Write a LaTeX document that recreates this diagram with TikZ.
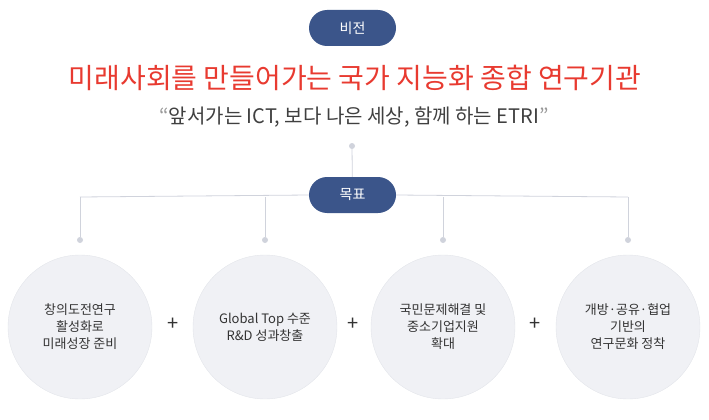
\documentclass[tikz,border=0pt]{standalone}
\usepackage{fontspec}
\setmainfont{Noto Sans CJK KR}
\usetikzlibrary{positioning, calc}
\definecolor{pillblue}{RGB}{59,85,138}
\definecolor{titlered}{RGB}{232,58,48}
\definecolor{linegray}{RGB}{208,211,220}
\definecolor{circfill}{RGB}{240,241,245}
\begin{document}
\begin{tikzpicture}[x=1pt, y=-1pt, every node/.style={font=\fontsize{13}{17}\selectfont}]
\useasboundingbox (0,0) rectangle (709,420);
\tikzset{
  pill/.style={rounded corners=18pt, fill=pillblue, text=white, minimum width=87pt, minimum height=36pt, font=\fontsize{14}{17}\selectfont},
  goal/.style={circle, fill=circfill, draw=linegray!60, minimum size=144pt, align=center, text=black!80},
  dot/.style={circle, fill=linegray, inner sep=0pt, minimum size=6pt},
  link/.style={draw=linegray, line width=0.8pt}
}
% Vision
\node[pill] (vision) at (352.5,28) {비전};
\node[text=titlered, font=\fontsize{28}{32}\selectfont] (title) at (355,78) {미래사회를 만들어가는 국가 지능화 종합 연구기관};
\node[text=black!75, font=\fontsize{20}{24}\selectfont] (quote) at (354,117) {\textcolor{black!40}{“}앞서가는 ICT, 보다 나은 세상, 함께 하는 ETRI\textcolor{black!40}{”}};

% Goal
\node[dot] (top) at (352,146) {};
\node[pill] (goalpill) at (352.5,195) {목표};
\draw[link] (top) -- (goalpill);

\foreach \x/\name/\txt in {80/g1/{창의도전연구\\활성화로\\미래성장 준비},
  265/g2/{Global Top 수준\\R\&D 성과창출},
  443/g3/{국민문제해결 및\\중소기업지원\\확대},
  628/g4/{개방·공유·협업\\기반의\\연구문화 정착}} {
  \node[goal] (\name) at (\x,327) {\txt};
  \node[dot] (\name d) at (\x,240) {};
  \draw[link] (\name d) -- (\x,197);
}
\draw[link] (80,197) -- (goalpill.west);
\draw[link] (goalpill.east) -- (628,197);

% Plus signs
\foreach \x/\name in {173/p1, 353/p2, 535/p3}
  \node[font=\fontsize{20}{20}\selectfont, text=black!80] (\name) at (\x,324) {+};
\end{tikzpicture}
\end{document}
